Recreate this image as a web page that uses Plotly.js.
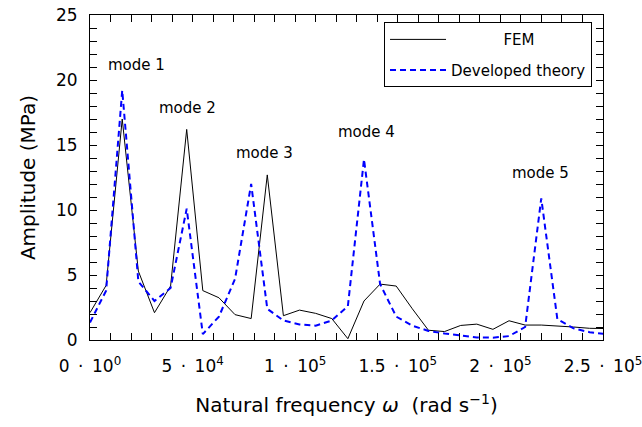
<!DOCTYPE html>
<html>
<head>
<meta charset="utf-8">
<script src="https://cdn.plot.ly/plotly-3.0.1.min.js"></script>
<style>html,body{margin:0;padding:0;background:#fff;}#chart{width:642px;height:427px;}</style>
</head>
<body>
<div id="chart"></div>
<script>
// Natural frequency (rad/s)
const omega = [0, 7854, 15708, 23562, 31416, 39270, 47124, 54978, 62832, 70686,
  78540, 86394, 94248, 102102, 109956, 117810, 125664, 133518, 141372, 149226,
  157080, 164934, 172788, 180642, 188496, 196350, 204204, 212058, 219911, 227765,
  235619, 243473, 251327];
// FEM amplitude (MPa)
const femAmp = [2.1, 4.2, 17.0, 5.3, 2.1, 4.15, 16.2, 3.8, 3.25, 1.95,
  1.65, 12.7, 1.87, 2.3, 2.05, 1.65, 0.1, 3.0, 4.3, 4.15,
  2.4, 0.75, 0.65, 1.12, 1.22, 0.82, 1.48, 1.15, 1.15, 1.1,
  1.0, 0.9, 0.88];
// Developed theory amplitude (MPa)
const theoryAmp = [1.35, 3.8, 19.2, 4.5, 3.0, 4.0, 10.1, 0.45, 1.8, 4.7,
  12.0, 2.4, 1.5, 1.2, 1.1, 1.5, 2.6, 13.9, 4.3, 1.8,
  1.1, 0.7, 0.5, 0.33, 0.2, 0.18, 0.3, 1.0, 10.9, 1.6,
  0.9, 0.6, 0.45];
const seriesNames = ["FEM", "Developed theory"];
const modeLabels = ["mode 1", "mode 2", "mode 3", "mode 4", "mode 5"];
const modeX = [22850, 47640, 85075, 134660, 219740];
const modeY = [21.15, 17.85, 14.4, 16.0, 12.85];
const xTickVals = [0, 50000, 100000, 150000, 200000, 250000];
const xTickText = ["0\u2002·\u200210<sup>0</sup>", "5\u2002·\u200210<sup>4</sup>", "1\u2002·\u200210<sup>5</sup>",
  "1.5\u2002·\u200210<sup>5</sup>", "2\u2002·\u200210<sup>5</sup>", "2.5\u2002·\u200210<sup>5</sup>"];

const FONT = "DejaVu Sans, Liberation Sans, sans-serif";

const traces = [
  {x: omega, y: femAmp, name: "\u00a0".repeat(11) + seriesNames[0], legendgroup: "a", type: "scatter", mode: "lines",
   line: {color: "#000000", width: 1}},
  {x: omega, y: theoryAmp, name: seriesNames[1], legendgroup: "b", type: "scatter", mode: "lines",
   line: {color: "#0000ff", width: 2, dash: "6px,4px"}}
];

const annotations = modeLabels.map((t, i) => ({
  x: modeX[i], y: modeY[i], xref: "x", yref: "y", text: t, showarrow: false,
  font: {family: FONT, size: 15, color: "#000"}
}));

const axisCommon = {
  showline: true, linecolor: "#000", linewidth: 1, mirror: "allticks",
  ticks: "inside", ticklen: 7, tickcolor: "#000", tickwidth: 1,
  showgrid: false, zeroline: false,
  tickfont: {family: FONT, size: 17, color: "#000"}
};

const layout = {
  width: 642, height: 427,
  margin: {l: 90, r: 39, t: 15, b: 87},
  paper_bgcolor: "#fff", plot_bgcolor: "#fff",
  showlegend: true,
  legend: {x: 0.9786, y: 0.978, xanchor: "right", yanchor: "top",
    bgcolor: "#fff", bordercolor: "#000", borderwidth: 1,
    traceorder: "grouped", tracegroupgap: 8,
    font: {family: FONT, size: 15, color: "#000"}, itemwidth: 56},
  xaxis: Object.assign({}, axisCommon, {
    range: [0, 250000], tickmode: "array", tickvals: xTickVals, ticktext: xTickText,
    ticklabelstandoff: 11, ticklabeloverflow: "allow",
    minor: {dtick: 10000, ticks: "inside", ticklen: 7, tickcolor: "#000", showgrid: false},
    title: {text: "Natural frequency <i>ω</i>  (rad s<sup>−1</sup>)", font: {family: FONT, size: 20, color: "#000"}, standoff: 22}
  }),
  yaxis: Object.assign({}, axisCommon, {
    range: [0, 25], dtick: 5, tick0: 0,
    ticklabelstandoff: 8,
    minor: {dtick: 1, ticks: "inside", ticklen: 7, tickcolor: "#000", showgrid: false},
    title: {text: "Amplitude (MPa)", font: {family: FONT, size: 20, color: "#000"}, standoff: 14}
  }),
  annotations: annotations
};

Plotly.newPlot("chart", traces, layout, {displayModeBar: false, staticPlot: true});
</script>
</body>
</html>
